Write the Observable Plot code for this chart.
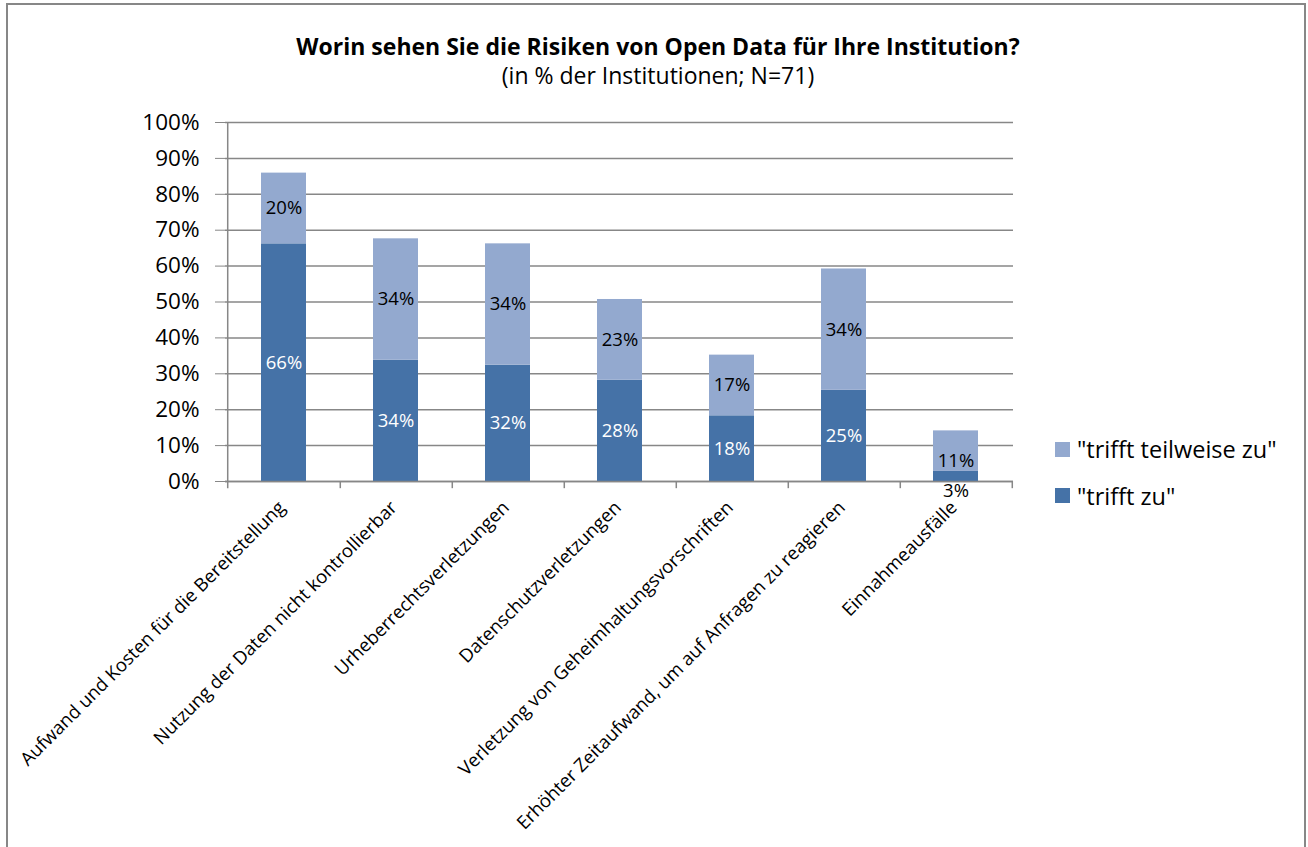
<!DOCTYPE html>
<html>
<head>
<meta charset="utf-8">
<script src="https://cdn.jsdelivr.net/npm/d3@7"></script>
<script src="https://cdn.jsdelivr.net/npm/@observablehq/plot@0.6"></script>
<style>
  html, body { margin: 0; padding: 0; background: #fff; }
  #wrap { position: relative; width: 1308px; height: 847px; overflow: hidden; font-family: "Open Sans", sans-serif; color: #000; }
  #border { position: absolute; left: 6px; top: 3px; width: 1300px; height: 860px; border: 2px solid #878787; box-sizing: border-box; }
  #title { position: absolute; left: 0; width: 1316px; top: 34px; line-height: 24px; text-align: center; font-weight: bold; font-size: 23px; }
  #subtitle { position: absolute; left: 0; width: 1316px; top: 63px; line-height: 24px; text-align: center; font-size: 23px; }
  #chart { position: absolute; left: 0; top: 0; }
  #legend { position: absolute; left: 1055px; top: 426px; font-size: 23.5px; }
  .item { display: flex; align-items: center; height: 46.5px; }
  .sw { width: 15px; height: 15px; margin-right: 7px; }
</style>
</head>
<body>
<div id="wrap">
  <div id="border"></div>
  <div id="chart"></div>
  <div id="title">Worin sehen Sie die Risiken von Open Data für Ihre Institution?</div>
  <div id="subtitle">(in % der Institutionen; N=71)</div>
  <div id="legend"></div>
</div>
<script>
const categories = [
  "Aufwand und Kosten für die Bereitstellung",
  "Nutzung der Daten nicht kontrollierbar",
  "Urheberrechtsverletzungen",
  "Datenschutzverletzungen",
  "Verletzung von Geheimhaltungsvorschriften",
  "Erhöhter Zeitaufwand, um auf Anfragen zu reagieren",
  "Einnahmeausfälle"
];
const seriesNames = ["\"trifft zu\"", "\"trifft teilweise zu\""];
const trifftZu = [66.2, 33.8, 32.4, 28.2, 18.3, 25.4, 2.8];
const trifftTeilweise = [19.7, 33.8, 33.8, 22.5, 16.9, 33.8, 11.3];
const seriesColors = ["#4572A7", "#93A9CF"];
const labelColors = ["#ffffff", "#000000"];
const yTicks = [0, 10, 20, 30, 40, 50, 60, 70, 80, 90, 100];

const rows = [];
categories.forEach((c, i) => {
  rows.push({cat: c, series: seriesNames[0], value: trifftZu[i]});
  rows.push({cat: c, series: seriesNames[1], value: trifftTeilweise[i]});
});

const W = 1308, H = 847;
const mL = 225, mR = W - 1013, mT = 122, mB = H - 481;
const step = (W - mL - mR) / categories.length;
const grey = "#878787";
const stackOpts = {x: "cat", y: "value", order: seriesNames};

const bigLabel = d => !(d.series === seriesNames[0] && d.value < 5);

const plot = Plot.plot({
  width: W,
  height: H,
  marginLeft: mL,
  marginRight: mR,
  marginTop: mT,
  marginBottom: mB,
  style: {fontFamily: "'Open Sans', sans-serif", fontSize: "18px", color: "#000", background: "transparent"},
  x: {domain: categories, paddingInner: 0.6, paddingOuter: 0.3, label: null},
  y: {domain: [0, 100], label: null},
  color: {domain: seriesNames, range: seriesColors},
  marks: [
    Plot.gridY(yTicks, {stroke: grey, strokeOpacity: 1, strokeWidth: 1.5}),
    Plot.barY(rows, Plot.stackY({...stackOpts, fill: "series"})),
    Plot.text(rows.filter(bigLabel), Plot.stackY({
      ...stackOpts,
      text: d => Math.round(d.value) + "%",
      fill: d => labelColors[seriesNames.indexOf(d.series)],
      fontSize: 18.5
    })),
    Plot.text(rows.filter(d => !bigLabel(d)), {
      x: "cat", y: () => 0, dy: 10,
      text: d => Math.round(d.value) + "%",
      fill: "#000", fontSize: 18.5
    }),
    Plot.ruleY([0], {stroke: grey, strokeWidth: 1.5}),
    Plot.ruleX(categories, {x: d => d, y1: -2, y2: 0, dx: step / 2, stroke: grey, strokeWidth: 1.5}),
    Plot.ruleX(categories.slice(0, 1), {x: d => d, y1: -2, y2: 100, dx: -step / 2, stroke: grey, strokeWidth: 1.5}),
    Plot.axisY(yTicks, {tickSize: 10, tickPadding: 16, tickFormat: d => d + "%", stroke: grey, fill: "#000", fontSize: 22.5, label: null}),
    Plot.axisX({tickRotate: -45, tickSize: 0, tickPadding: 23, dx: -2, fill: "#000", fontSize: 18.5, label: null})
  ]
});
document.getElementById("chart").appendChild(plot);

const legend = document.getElementById("legend");
[1, 0].forEach(i => {
  const item = document.createElement("div");
  item.className = "item";
  const sw = document.createElement("div");
  sw.className = "sw";
  sw.style.background = seriesColors[i];
  const t = document.createElement("span");
  t.textContent = seriesNames[i];
  item.appendChild(sw);
  item.appendChild(t);
  legend.appendChild(item);
});
</script>
</body>
</html>
